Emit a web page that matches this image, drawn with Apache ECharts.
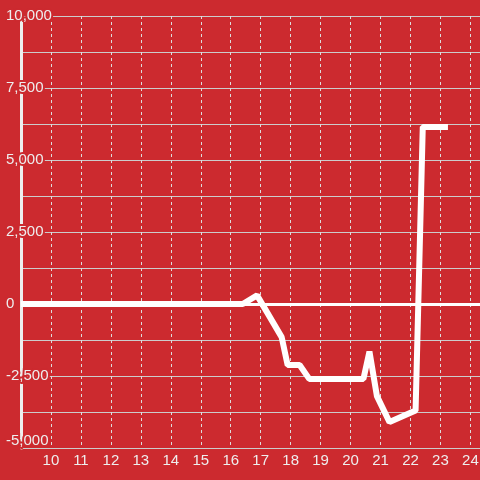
<!DOCTYPE html>
<html>
<head>
<meta charset="UTF-8">
<title>chart</title>
<script src="https://cdn.jsdelivr.net/npm/echarts@6/dist/echarts.min.js"></script>
<style>
  html, body { margin: 0; padding: 0; background: #cc2a2f; }
</style>
</head>
<body>
<div id="main" style="width: 480px;height:480px;"></div>
<script type="text/javascript">
// x positions and values
var xs = [9, 16.4, 16.88, 17.7, 17.9, 18.3, 18.62, 20.43, 20.63, 20.88, 21.3, 22.17, 22.41, 23.25];
var ys = [0, 0, 300, -1150, -2120, -2120, -2600, -2600, -1650, -3200, -4100, -3700, 6150, 6150];
var yTicks = [-5000, 10000, 2500];   // min, max, step
var xTicks = [9, 24.32, 1];

var points = [];
for (var i = 0; i < xs.length; i++) {
  points.push([xs[i], ys[i]]);
}

var bg = '#cc2a2f';
var myChart = echarts.init(document.getElementById('main'));

var option = {
  backgroundColor: bg,
  animation: false,
  grid: { left: 21, right: 0, top: 16, bottom: 32, outerBoundsMode: 'none' },
  xAxis: {
    type: 'value',
    min: xTicks[0],
    max: xTicks[1],
    interval: xTicks[2],
    axisLine: { show: false },
    axisTick: { show: false },
    axisLabel: {
      color: '#eee',
      fontSize: 15,
      fontFamily: 'Liberation Sans',
      margin: 5,
      showMinLabel: false,
      showMaxLabel: false
    },
    splitLine: { show: true, lineStyle: { color: '#ddd', width: 1, type: [3, 3] } }
  },
  yAxis: {
    type: 'value',
    min: yTicks[0],
    max: yTicks[1],
    interval: yTicks[2],
    axisLine: { show: true, lineStyle: { color: '#eee', width: 3 } },
    axisTick: { show: false },
    axisLabel: {
      color: '#eee',
      fontSize: 15,
      fontFamily: 'Liberation Sans',
      align: 'left',
      margin: 15,
      verticalAlignMinLabel: 'bottom',
      textBorderColor: bg,
      textBorderWidth: 4,
      formatter: function (v) { return v.toLocaleString('en-US'); }
    },
    splitLine: { show: true, lineStyle: { color: '#ccc', width: 1 } },
    minorTick: { show: false, splitNumber: 2 },
    minorSplitLine: { show: true, lineStyle: { color: '#ccc', width: 1 } }
  },
  series: [{
    type: 'line',
    data: points,
    showSymbol: false,
    symbol: 'none',
    lineStyle: { color: '#fff', width: 6 },
    markLine: {
      silent: true,
      symbol: 'none',
      label: { show: false },
      lineStyle: { color: '#fff', width: 3, type: 'solid' },
      data: [{ yAxis: 0 }]
    }
  }]
};
myChart.setOption(option);
</script>
</body>
</html>
